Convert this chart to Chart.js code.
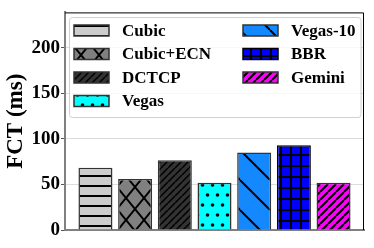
<!DOCTYPE html>
<html>
<head>
<meta charset="utf-8">
<script src="https://cdn.jsdelivr.net/npm/chart.js@4.4.0/dist/chart.umd.min.js"></script>
<style>
  html, body { margin: 0; padding: 0; background: #fff; }
  #wrap { width: 374px; height: 248px; }
</style>
</head>
<body>
<div id="wrap"><canvas id="fctChart"></canvas></div>
<script>
const algorithms = ['Cubic', 'Cubic+ECN', 'DCTCP', 'Vegas', 'Vegas-10', 'BBR', 'Gemini'];
const fctValues = [68.5, 56, 76.5, 52, 85, 93, 52];
const yTicks = [0, 50, 100, 150, 200];

const FONT = "'Liberation Serif', 'Times New Roman', serif";
const ctx = document.getElementById('fctChart').getContext('2d');

// hatch tiles, roughly like matplotlib's hatch styles
function makePattern(bg, w, h, draw) {
    const c = document.createElement('canvas');
    c.width = w;
    c.height = h;
    const g = c.getContext('2d');
    g.fillStyle = bg;
    g.fillRect(0, 0, w, h);
    g.strokeStyle = '#000';
    g.fillStyle = '#000';
    draw(g, w, h);
    return ctx.createPattern(c, 'repeat');
}

function diag(g, s, lw, forward) {
    g.lineWidth = lw;
    g.beginPath();
    for (let k = -1; k <= 1; k++) {
        if (forward) {
            g.moveTo(k * s, s);
            g.lineTo(k * s + s, 0);
        } else {
            g.moveTo(k * s, 0);
            g.lineTo(k * s + s, s);
        }
    }
    g.stroke();
}

const patterns = [
    makePattern('#cccccc', 10, 10, (g) => g.fillRect(0, 5, 10, 2)),
    makePattern('#808080', 18, 22, (g, w, h) => {
        g.lineWidth = 2;
        g.beginPath();
        for (let k = -1; k <= 1; k++) {
            g.moveTo(k * w, 0); g.lineTo(k * w + w, h);
            g.moveTo(k * w + w, 0); g.lineTo(k * w, h);
        }
        g.stroke();
    }),
    makePattern('#333333', 7, 7, (g) => diag(g, 7, 1.5, true)),
    makePattern('#00ffff', 10, 20, (g) => {
        [[2.5, 5], [7.5, 15], [12.5, 15], [-2.5, 15]].forEach(([x, y]) => {
            g.beginPath();
            g.arc(x, y, 1.8, 0, Math.PI * 2);
            g.fill();
        });
    }),
    makePattern('#1488ff', 30, 30, (g) => diag(g, 30, 2, false)),
    makePattern('#0000ff', 10, 11, (g) => {
        g.fillRect(0, 0, 2, 11);
        g.fillRect(0, 0, 10, 2);
    }),
    makePattern('#ff00ff', 8, 8, (g) => diag(g, 8, 2, true))
];
const edgeColors = ['#333', '#333', '#333', '#333', '#333', '#000', '#333'];

// legend drawn inside the plot, two columns like matplotlib ncol=2
const boxLegend = {
    id: 'boxLegend',
    afterDatasetsDraw(chart) {
        const c = chart.ctx;
        c.save();
        c.fillStyle = 'rgba(255,255,255,0.8)';
        c.strokeStyle = '#d0d0d0';
        c.lineWidth = 1;
        c.beginPath();
        c.roundRect(69.5, 17.5, 291.5, 100, 3);
        c.fill();
        c.stroke();
        chart.data.datasets.forEach((ds, i) => {
            const col = i < 4 ? 0 : 1;
            const row = i < 4 ? i : i - 4;
            const bx = col === 0 ? 74 : 243;
            const cy = 30.5 + row * 23.5;
            c.fillStyle = ds.backgroundColor;
            c.fillRect(bx, cy - 5.5, 35, 11);
            c.strokeStyle = ds.borderColor;
            c.lineWidth = 1.5;
            c.strokeRect(bx, cy - 5.5, 35, 11);
            c.fillStyle = '#000';
            c.font = 'bold 17px ' + FONT;
            c.textBaseline = 'middle';
            c.fillText(ds.label, bx + 48, cy + 1);
        });
        c.restore();
    },
    afterDraw(chart) {
        const { top, right, left, bottom } = chart.chartArea;
        const c = chart.ctx;
        c.save();
        c.strokeStyle = '#000';
        c.lineWidth = 1;
        c.beginPath();
        c.moveTo(left, top + 0.5);
        c.lineTo(right - 0.5, top + 0.5);
        c.lineTo(right - 0.5, bottom);
        c.stroke();
        c.restore();
    }
};

new Chart(ctx, {
    type: 'bar',
    data: {
        labels: [''],
        datasets: algorithms.map((name, i) => ({
            label: name,
            data: [fctValues[i]],
            backgroundColor: patterns[i],
            borderColor: edgeColors[i],
            borderWidth: 1.5,
            categoryPercentage: 0.929,
            barPercentage: 0.857
        }))
    },
    options: {
        responsive: true,
        maintainAspectRatio: false,
        animation: false,
        layout: { padding: { top: 5, right: 10, left: 0, bottom: 0 } },
        scales: {
            x: {
                ticks: { display: false },
                grid: { display: false },
                border: { color: '#808080', width: 2 },
                afterFit: (s) => { s.height = 18; }
            },
            y: {
                min: 0,
                max: 239,
                afterFit: (s) => { s.width = 65; },
                afterBuildTicks: (s) => { s.ticks = yTicks.map(v => ({ value: v })); },
                ticks: {
                    color: '#000',
                    padding: 1,
                    font: { family: FONT, weight: 'bold', size: 19 }
                },
                grid: {
                    color: '#dcdcdc',
                    tickColor: '#555',
                    tickLength: 4
                },
                border: { color: '#808080', width: 2 },
                title: {
                    display: true,
                    text: 'FCT (ms)',
                    color: '#000',
                    padding: { top: 2, bottom: 0 },
                    font: { family: FONT, weight: 'bold', size: 23 }
                }
            }
        },
        plugins: {
            legend: { display: false },
            tooltip: { enabled: false }
        }
    },
    plugins: [boxLegend]
});
</script>
</body>
</html>
